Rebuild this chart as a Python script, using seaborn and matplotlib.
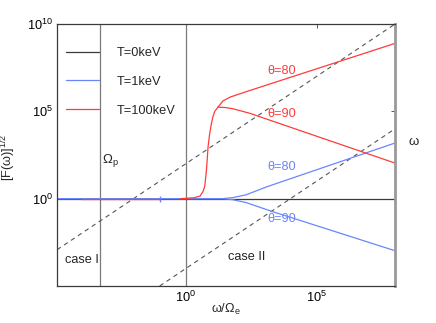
import numpy as np
import seaborn as sns
import matplotlib
matplotlib.use('Agg')
import matplotlib.pyplot as plt

# values (x = omega/Omega_e, y = [F(omega)]^(1/2))
x_lim = [1.2e-5, 1e8]
y_lim = [1e-5, 1e10]
omega_p = 1 / 1836.0

# T=1keV (blue), both angles share the flat part
blue_x = [1.2e-5, 25, 63, 200, 1.26e3, 9.5e7]
blue_80 = [1, 1, 1.15, 1.66, 4.8, 1.5e3]
blue_90 = [1, 1, 0.87, 0.6, 0.18, 1.07e-3]
blue_90_x = [1.2e-5, 25, 63, 200, 2.1e3, 9.5e7]
blue_spike_x = [0.1]
blue_spike_y = [1]

# T=100keV (red)
red_flat_x = [1e-4, 0.1]
red_flat_y = [1, 1]
red_rise_x = [0.59, 2.0, 3.5, 4.57, 5.3, 6.17, 7.1, 8.2, 9.6, 11, 12.8, 17]
red_rise_y = [1, 1.12, 1.4, 2.6, 5.0, 44, 940, 5.4e3, 2.1e4, 5.2e4, 1e5, 1.74e5]
red_80_x = [17, 26, 50, 275, 9.5e7]
red_80_y = [1.74e5, 3.9e5, 6.6e5, 1.55e6, 7.6e8]
red_90_x = [17, 32, 63, 275, 9.5e7]
red_90_y = [1.74e5, 1.66e5, 1.41e5, 7.8e4, 112]

# dashed reference lines (omega)
dash1_x = [1.2e-5, 1e8]
dash1_y = [1.2e-3, 1e10]
dash2_x = [0.1, 1e8]
dash2_y = [1e-5, 1e4]

x_ticks = [1e0, 1e5]
x_tick_labels = ['$10^{0}$', '$10^{5}$']
y_ticks = [1e0, 1e5, 1e10]
y_tick_labels = ['$10^{0}$', '$10^{5}$', '$10^{10}$']

sns.set_style('white')
plt.rcParams['font.family'] = ['Liberation Sans', 'DejaVu Sans']
plt.rcParams['mathtext.fontset'] = 'custom'
plt.rcParams['mathtext.rm'] = 'Liberation Sans'
plt.rcParams['mathtext.default'] = 'regular'

red = '#ff3b3b'
blue = '#6a86ff'
dark = '#3a3a3a'
grey = '#7a7a7a'
fs = 9.2

fig = plt.figure(figsize=(4.36, 3.23), dpi=100)
ax = fig.add_axes([0.131, 0.1146, 0.775, 0.811])
ax.set_xscale('log')
ax.set_yscale('log')

# vertical guides
ax.axvline(omega_p, color=grey, lw=0.9)
ax.axvline(1.0, color=grey, lw=0.9)

# dashed omega lines
sns.lineplot(x=dash1_x, y=dash1_y, ax=ax, color='#555555', lw=0.8, linestyle=(0, (4, 3.5)))
sns.lineplot(x=dash2_x, y=dash2_y, ax=ax, color='#555555', lw=0.8, linestyle=(0, (4, 3.5)))

# T=0keV
ax.axhline(1.0, color=dark, lw=0.9, label='T=0keV')

# T=1keV
sns.lineplot(x=blue_x, y=blue_80, ax=ax, color=blue, lw=0.9, label='T=1keV', estimator=None, sort=False)
sns.lineplot(x=blue_90_x, y=blue_90, ax=ax, color=blue, lw=0.9, estimator=None, sort=False)
ax.plot(blue_spike_x, blue_spike_y, marker='|', ms=5, mew=1, color=blue, ls='none')

# T=100keV
sns.lineplot(x=red_flat_x, y=red_flat_y, ax=ax, color=red, lw=0.9, label='T=100keV', estimator=None, sort=False)
sns.lineplot(x=red_rise_x, y=red_rise_y, ax=ax, color=red, lw=0.9, estimator=None, sort=False)
sns.lineplot(x=red_80_x, y=red_80_y, ax=ax, color=red, lw=0.9, estimator=None, sort=False)
sns.lineplot(x=red_90_x, y=red_90_y, ax=ax, color=red, lw=0.9, estimator=None, sort=False)

ax.set_xlim(x_lim)
ax.set_ylim(y_lim)
ax.set_xticks(x_ticks)
ax.set_xticklabels(x_tick_labels)
ax.set_yticks(y_ticks)
ax.set_yticklabels(y_tick_labels)
ax.minorticks_off()
ax.tick_params(direction='in', length=3, width=0.6, top=True, right=True,
               labelsize=fs, colors=dark, labelcolor='black', pad=3)

for side in ['left', 'bottom', 'top']:
    ax.spines[side].set_color(dark)
    ax.spines[side].set_linewidth(0.9)
ax.spines['right'].set_color('#999999')
ax.spines['right'].set_linewidth(2)

ax.set_xlabel('ω/Ω$_e$', fontsize=fs)
ax.set_ylabel('[F(ω)]$^{1/2}$', fontsize=fs)
ax.xaxis.set_label_coords(0.5, -0.06)
ax.yaxis.set_label_coords(-0.115, 0.49)

# annotations
ax.text(6e-4, 1.6e2, 'Ω$_p$', fontsize=9.5, va='center')
ax.text(2.5e-5, 3e-4, 'case I', fontsize=fs, va='center')
ax.text(2.1e2, 4.5e-4, 'case II', fontsize=fs, ha='center', va='center')
ax.text(4.6e3, 2.1e7, 'θ=80', color=red, fontsize=fs, ha='center', va='center')
ax.text(4.6e3, 6.8e4, 'θ=90', color=red, fontsize=fs, ha='center', va='center')
ax.text(4.6e3, 66, 'θ=80', color=blue, fontsize=fs, ha='center', va='center')
ax.text(4.6e3, 0.072, 'θ=90', color=blue, fontsize=fs, ha='center', va='center')
ax.text(1.04, 0.55, 'ω', transform=ax.transAxes, fontsize=9.5, ha='left', va='center')

leg = ax.legend(loc='upper left', bbox_to_anchor=(0.025, 0.912), frameon=False,
                fontsize=fs, handlelength=2.6, handletextpad=1.4,
                labelspacing=1.32, borderpad=0, borderaxespad=0)

fig.savefig('out.png', dpi=100)
